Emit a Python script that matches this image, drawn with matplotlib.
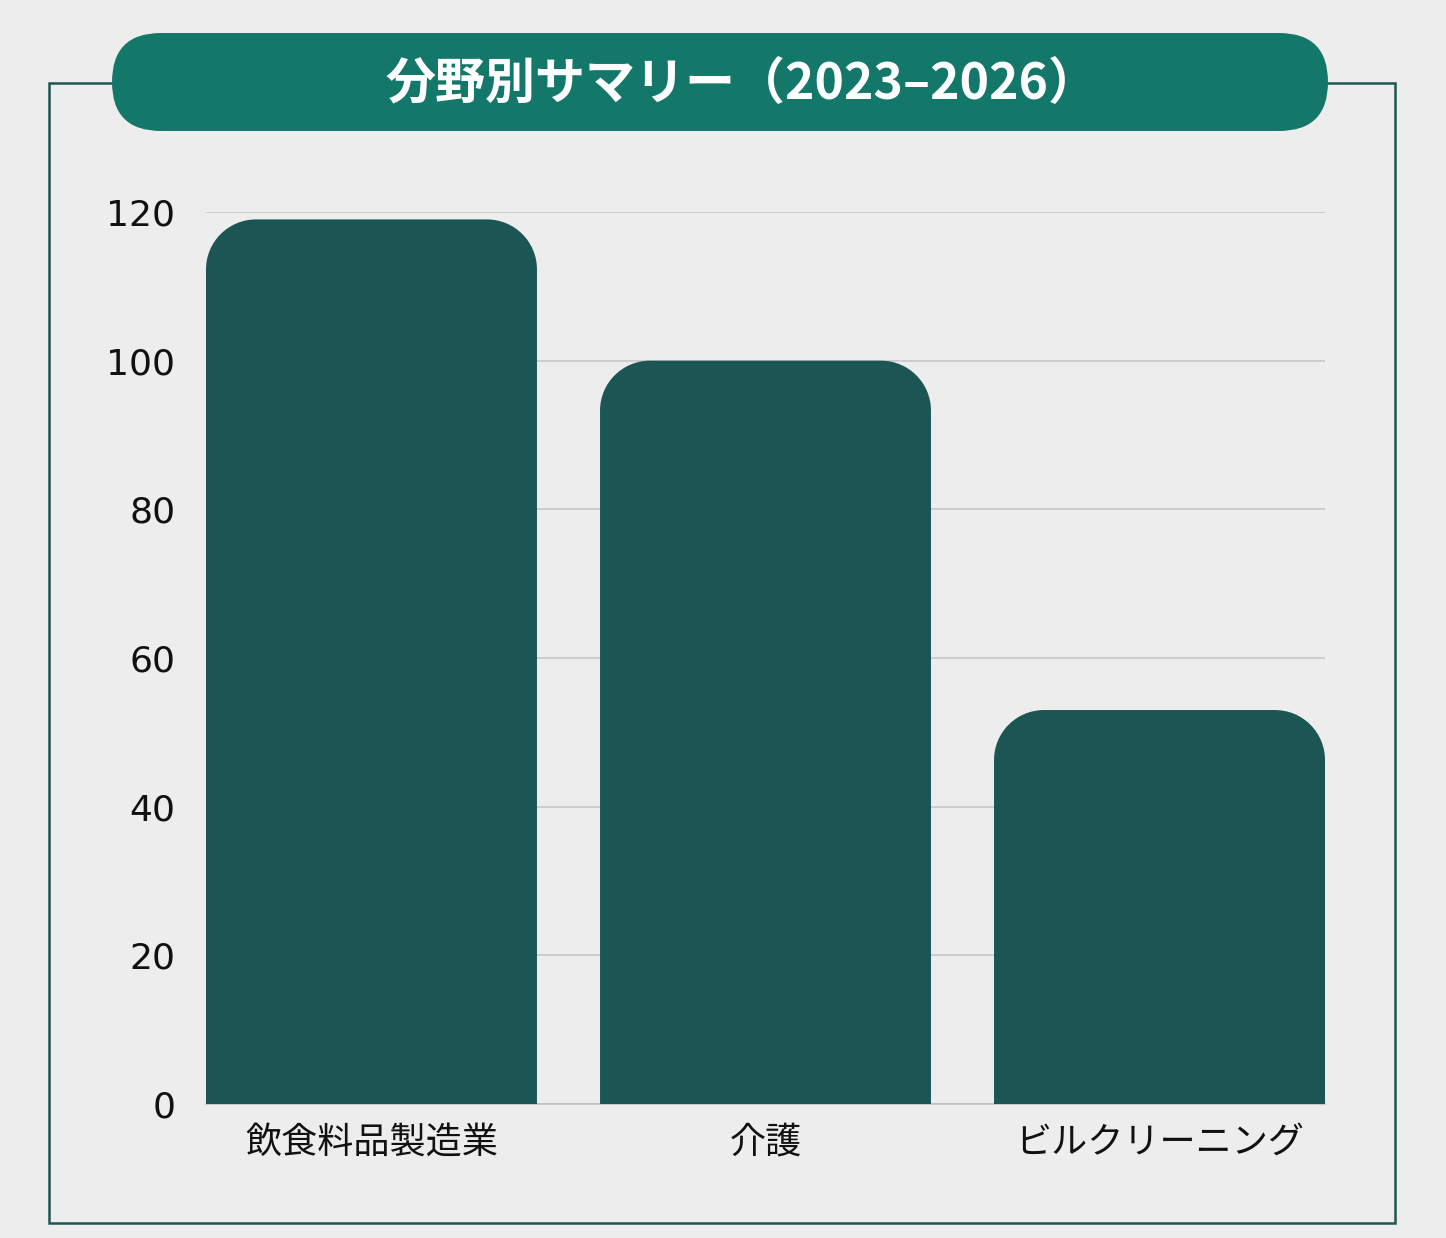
import matplotlib
matplotlib.use("Agg")
import matplotlib.pyplot as plt
from matplotlib.path import Path
from matplotlib.patches import PathPatch, FancyBboxPatch, Rectangle
from matplotlib.transforms import IdentityTransform

categories = ["飲食料品製造業", "介護", "ビルクリーニング"]
values = [119, 100, 53]
yticks = [0, 20, 40, 60, 80, 100, 120]
title = "分野別サマリー（2023–2026）"

BG = "#ededed"
BAR = "#1c5654"
PILL = "#13786a"
FRAME = "#1d5652"

W, H = 1446, 1238
fig = plt.figure(figsize=(W / 100, H / 100), dpi=100, facecolor=BG)

ax = fig.add_axes([206 / W, (H - 1104) / H, (1325 - 206) / W, (1104 - 212) / H])
ax.set_facecolor(BG)
ax.set_xlim(-0.42, 2.42)
ax.set_ylim(0, 120)

bars = ax.bar(range(len(categories)), values, width=0.84, color=BAR, zorder=3)

# replace bars by rounded-top shapes (radius ~50px)
px_x = (1325 - 206) / (2.42 + 0.42)
px_y = (1104 - 212) / 120.0
rpx = 50
k = 0.5523
for b in bars:
    x0, w, h = b.get_x(), b.get_width(), b.get_height()
    x1 = x0 + w
    rx = rpx / px_x
    ry = rpx / px_y
    verts = [
        (x0, 0), (x0, h - ry),
        (x0, h - ry + k * ry), (x0 + rx - k * rx, h), (x0 + rx, h),
        (x1 - rx, h),
        (x1 - rx + k * rx, h), (x1, h - ry + k * ry), (x1, h - ry),
        (x1, 0), (x0, 0),
    ]
    codes = [Path.MOVETO, Path.LINETO,
             Path.CURVE4, Path.CURVE4, Path.CURVE4,
             Path.LINETO,
             Path.CURVE4, Path.CURVE4, Path.CURVE4,
             Path.LINETO, Path.CLOSEPOLY]
    ax.add_patch(PathPatch(Path(verts, codes), facecolor=BAR, edgecolor="none", zorder=3))
    b.set_visible(False)

ax.set_yticks(yticks)
ax.set_yticklabels([str(v) for v in yticks], fontsize=26, family="DejaVu Sans", color="#111111")
ax.set_xticks(range(len(categories)))
ax.set_xticklabels(categories, fontsize=26, family=["Noto Sans CJK JP", "DejaVu Sans"], color="#111111")
ax.tick_params(axis="y", length=0, pad=22)
ax.tick_params(axis="x", length=0, pad=15)
ax.yaxis.grid(True, color="#c4c4c4", linewidth=1.1, zorder=0)
ax.set_axisbelow(True)
for s in ["top", "right", "left"]:
    ax.spines[s].set_visible(False)
ax.spines["bottom"].set_color("#bdbdbd")
ax.spines["bottom"].set_linewidth(1.1)

# outer frame
tr = IdentityTransform()
fig.patches.append(Rectangle((49, H - 1223), 1395 - 49, 1223 - 83, transform=tr,
                             fill=False, edgecolor=FRAME, linewidth=1.8, figure=fig))
# title pill
ph = 131 - 33
fig.patches.append(FancyBboxPatch((112, H - 131), 1328 - 112, ph, transform=tr,
                                  boxstyle=f"round,pad=0,rounding_size={ph / 2}",
                                  facecolor=PILL, edgecolor="none", figure=fig))
fig.text(742 / W, (H - 84) / H, title, ha="center", va="center", color="white",
         fontsize=36, fontweight="bold", family=["Noto Sans CJK JP", "DejaVu Sans"])

fig.savefig("out.png", dpi=100, facecolor=BG)
